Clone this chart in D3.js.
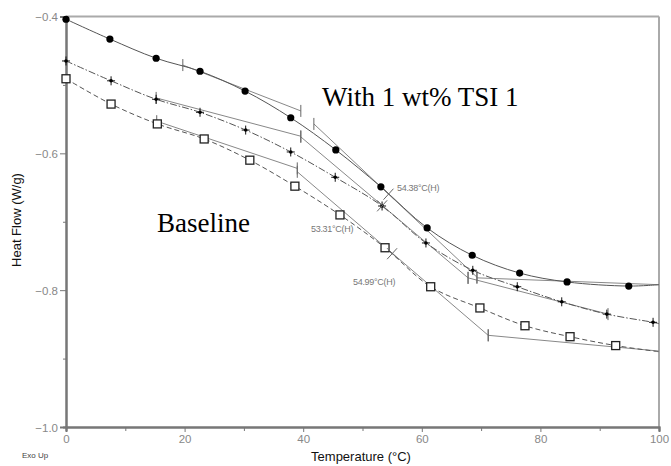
<!DOCTYPE html>
<html>
<head>
<meta charset="utf-8">
<script src="https://cdn.jsdelivr.net/npm/d3@7"></script>
<style>
  body { margin: 0; background: #fff; }
  svg { display: block; }
</style>
</head>
<body>
<svg width="671" height="466"></svg>
<script>
// temperature (C), heat flow (W/g)
var withTsiT = [0, 7.4, 15.2, 22.6, 30.2, 37.9, 45.5, 53.1, 60.9, 68.5, 76.5, 84.5, 94.9, 100];
var withTsiV = [-0.404, -0.433, -0.461, -0.480, -0.509, -0.548, -0.595, -0.649, -0.709, -0.749, -0.775, -0.788, -0.794, -0.792];

var midT = [0, 7.6, 15.2, 22.6, 30.3, 37.9, 45.4, 53.3, 60.7, 68.6, 76.1, 83.6, 91.2, 99.0, 100];
var midV = [-0.465, -0.494, -0.521, -0.540, -0.566, -0.598, -0.635, -0.677, -0.731, -0.771, -0.795, -0.817, -0.835, -0.847, -0.849];

var baseT = [0, 7.6, 15.4, 23.3, 31.0, 38.6, 46.2, 53.8, 61.5, 69.8, 77.4, 85.0, 92.7, 100];
var baseV = [-0.491, -0.528, -0.557, -0.579, -0.610, -0.648, -0.690, -0.738, -0.795, -0.826, -0.852, -0.868, -0.881, -0.890];

// onset analysis tangent segments [T1, v1, T2, v2]
var tangents = [
  [19.7, -0.471, 39.6, -0.538],
  [41.8, -0.557, 69.3, -0.781],
  [69.3, -0.782, 100, -0.792],
  [15.2, -0.519, 39.6, -0.575],
  [39.6, -0.576, 67.8, -0.782],
  [67.8, -0.782, 91.4, -0.835],
  [15.3, -0.553, 39.0, -0.622],
  [39.0, -0.627, 71.2, -0.866],
  [71.2, -0.866, 100, -0.889]
];

var onsetT = [54.38, 53.31, 54.99];
var onsetV = [-0.659, -0.676, -0.746];
var onsetLabels = ["54.38\u00b0C(H)", "53.31\u00b0C(H)", "54.99\u00b0C(H)"];

var xTicks = [0, 20, 40, 60, 80, 100];
var yTicks = [-0.4, -0.6, -0.8, -1.0];

var svg = d3.select("svg");

var x = d3.scaleLinear().domain([0, 100]).range([66, 659]);
var y = d3.scaleLinear().domain([-0.4, -1.0]).range([16.5, 427]);

function pts(ts, vs) { return ts.map(function(t, i) { return [t, vs[i]]; }); }

// frame
svg.append("line").attr("x1", 66).attr("x2", 659).attr("y1", 16.5).attr("y2", 16.5)
    .attr("stroke", "#aaa").attr("stroke-width", 2);
svg.append("line").attr("x1", 659).attr("x2", 659).attr("y1", 16.5).attr("y2", 427)
    .attr("stroke", "#aaa").attr("stroke-width", 2);

var xAxis = svg.append("g")
    .attr("transform", "translate(0,427)")
    .call(d3.axisBottom(x).tickValues(xTicks).tickSize(5).tickPadding(3).tickFormat(d3.format("d")));
var xMinor = svg.append("g")
    .attr("transform", "translate(0,427)")
    .call(d3.axisBottom(x).tickValues([10, 30, 50, 70, 90]).tickSize(4).tickFormat(""));
var yAxis = svg.append("g")
    .attr("transform", "translate(66,0)")
    .call(d3.axisLeft(y).tickValues(yTicks).tickSize(6).tickPadding(2).tickFormat(d3.format(".1f")));
var yMinor = svg.append("g")
    .attr("transform", "translate(66,0)")
    .call(d3.axisLeft(y).tickValues([-0.5, -0.7, -0.9]).tickSize(3).tickFormat(""));

[xAxis, xMinor, yAxis, yMinor].forEach(function(g) {
  g.select(".domain").attr("stroke", "#777").attr("stroke-width", 2);
  g.selectAll(".tick line").attr("stroke", "#777");
  g.selectAll("text").attr("fill", "#888").attr("font-family", "Liberation Sans, Arial, sans-serif").attr("font-size", 11.5);
});
yAxis.selectAll(".tick text").attr("dy", "0.35em");

// tangents
svg.append("g").selectAll("line")
    .data(tangents)
    .enter().append("line")
      .attr("x1", function(d) { return x(d[0]); })
      .attr("y1", function(d) { return y(d[1]); })
      .attr("x2", function(d) { return x(d[2]); })
      .attr("y2", function(d) { return y(d[3]); })
      .attr("stroke", "#888").attr("stroke-width", 1);

// vertical ticks at tangent ends
var ends = [];
tangents.forEach(function(d) {
  if (d[0] > 0 && d[0] < 100) ends.push([d[0], d[1]]);
  if (d[2] > 0 && d[2] < 100) ends.push([d[2], d[3]]);
});
svg.append("g").selectAll("line")
    .data(ends)
    .enter().append("line")
      .attr("x1", function(d) { return x(d[0]); })
      .attr("x2", function(d) { return x(d[0]); })
      .attr("y1", function(d) { return y(d[1]) - 6; })
      .attr("y2", function(d) { return y(d[1]) + 6; })
      .attr("stroke", "#666").attr("stroke-width", 1);

// traces
var line = d3.line()
    .x(function(d) { return x(d[0]); })
    .y(function(d) { return y(d[1]); })
    .curve(d3.curveCatmullRom.alpha(0.5));

svg.append("path").datum(pts(withTsiT, withTsiV))
    .attr("d", line).attr("fill", "none").attr("stroke", "#555").attr("stroke-width", 1);
svg.append("path").datum(pts(midT, midV))
    .attr("d", line).attr("fill", "none").attr("stroke", "#555").attr("stroke-width", 1)
    .attr("stroke-dasharray", "7,2,1.5,2");
svg.append("path").datum(pts(baseT, baseV))
    .attr("d", line).attr("fill", "none").attr("stroke", "#555").attr("stroke-width", 1)
    .attr("stroke-dasharray", "5,3");

// markers
svg.append("g").selectAll("circle")
    .data(pts(withTsiT, withTsiV).slice(0, -1))
    .enter().append("circle")
      .attr("cx", function(d) { return x(d[0]); })
      .attr("cy", function(d) { return y(d[1]); })
      .attr("r", 3.6)
      .attr("fill", "#000");

var stars = svg.append("g").selectAll("g")
    .data(pts(midT, midV).slice(0, -1))
    .enter().append("g")
      .attr("transform", function(d) { return "translate(" + x(d[0]) + "," + y(d[1]) + ")"; });
stars.append("path")
    .attr("d", "M-4,0H4M0,-4.5V4.5")
    .attr("stroke", "#111").attr("stroke-width", 1);
stars.append("circle").attr("r", 1.8).attr("fill", "#000");

svg.append("g").selectAll("rect")
    .data(pts(baseT, baseV).slice(0, -1))
    .enter().append("rect")
      .attr("x", function(d) { return x(d[0]) - 4; })
      .attr("y", function(d) { return y(d[1]) - 4; })
      .attr("width", 8).attr("height", 8)
      .attr("fill", "#fff").attr("stroke", "#222").attr("stroke-width", 1.3);

// onset crosses and labels
var onsets = svg.append("g").selectAll("g")
    .data(onsetT)
    .enter().append("g")
      .attr("transform", function(d, i) { return "translate(" + x(d) + "," + y(onsetV[i]) + ")"; });
onsets.append("path")
    .attr("d", "M-5,-5L6,6M-5,6L5,-5")
    .attr("stroke", "#666").attr("stroke-width", 1);

var labelPos = [[397, 191], [311, 232], [353, 285]];
svg.append("g").selectAll("text")
    .data(onsetLabels)
    .enter().append("text")
      .attr("x", function(d, i) { return labelPos[i][0]; })
      .attr("y", function(d, i) { return labelPos[i][1]; })
      .attr("font-family", "Liberation Sans, Arial, sans-serif")
      .attr("font-size", 9).attr("fill", "#777")
      .attr("letter-spacing", -0.3)
      .text(function(d) { return d; });

// annotations
svg.append("text").attr("x", 322).attr("y", 106)
    .attr("font-family", "Liberation Serif, Times New Roman, serif").attr("font-size", 27)
    .text("With 1 wt% TSI 1");
svg.append("text").attr("x", 157).attr("y", 232)
    .attr("font-family", "Liberation Serif, Times New Roman, serif").attr("font-size", 27)
    .text("Baseline");

// axis titles
svg.append("text").attr("x", 361).attr("y", 461).attr("text-anchor", "middle")
    .attr("font-family", "Liberation Sans, Arial, sans-serif").attr("font-size", 13).attr("fill", "#111")
    .text("Temperature (\u00b0C)");
svg.append("text").attr("transform", "translate(21,220) rotate(-90)").attr("text-anchor", "middle")
    .attr("font-family", "Liberation Sans, Arial, sans-serif").attr("font-size", 13).attr("fill", "#111")
    .text("Heat Flow (W/g)");
svg.append("text").attr("x", 22).attr("y", 458)
    .attr("font-family", "Liberation Sans, Arial, sans-serif").attr("font-size", 8).attr("fill", "#444")
    .text("Exo Up");
</script>
</body>
</html>
